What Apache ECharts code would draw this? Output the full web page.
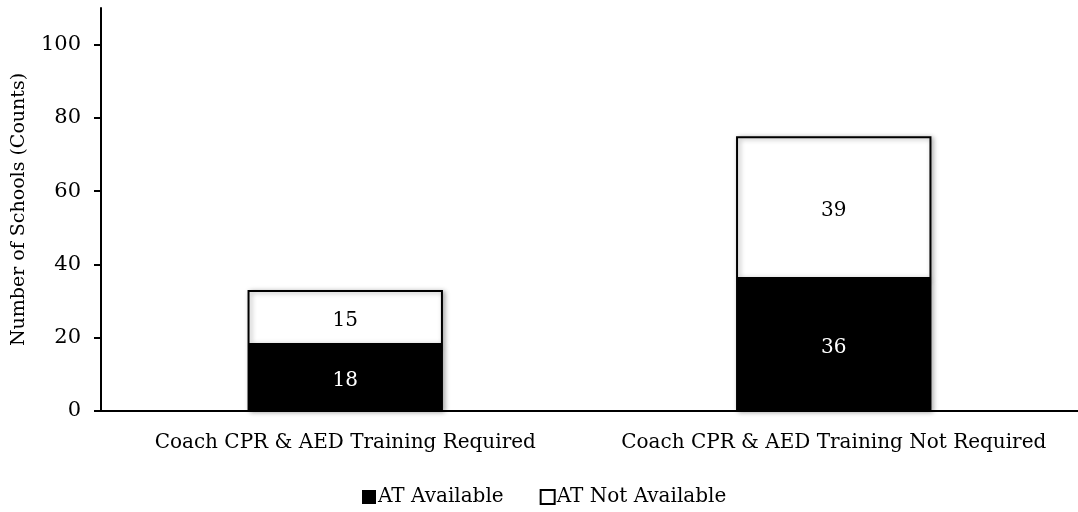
<!DOCTYPE html>
<html>
<head>
<meta charset="utf-8">
<script src="https://cdn.jsdelivr.net/npm/echarts@6/dist/echarts.min.js"></script>
<style>
  html, body { margin: 0; padding: 0; background: #fff; }
  #chart { width: 1078px; height: 512px; }
</style>
</head>
<body>
<div id="chart"></div>
<script>
// Schools by coach CPR/AED training requirement, split by athletic trainer availability
const categories = ['Coach CPR & AED Training Required', 'Coach CPR & AED Training Not Required'];
const atAvailable = [18, 36];
const atNotAvailable = [15, 39];
const seriesNames = ['AT Available', 'AT Not Available'];

const FONT = 'DejaVu Serif';

const chart = echarts.init(document.getElementById('chart'), null, { renderer: 'canvas' });

const barShadow = {
  shadowBlur: 5,
  shadowColor: 'rgba(0,0,0,0.35)',
  shadowOffsetX: 2,
  shadowOffsetY: 1
};

chart.setOption({
  animation: false,
  backgroundColor: '#ffffff',
  textStyle: { fontFamily: FONT, color: '#000' },
  grid: { left: 101, right: 0, top: 8, bottom: 101, containLabel: false, outerBoundsMode: 'none' },
  legend: {
    bottom: 0,
    left: 357,
    itemWidth: 14,
    itemHeight: 14,
    itemGap: 36,
    textStyle: { fontFamily: FONT, fontSize: 20, color: '#000', padding: [0, 0, 0, -3] },
    data: [
      { name: seriesNames[0], icon: 'rect', itemStyle: { color: '#000', borderColor: '#000', borderWidth: 0 } },
      { name: seriesNames[1], icon: 'rect', itemStyle: { color: '#fff', borderColor: '#000', borderWidth: 2 } }
    ]
  },
  xAxis: {
    type: 'category',
    data: categories,
    axisLine: { lineStyle: { color: '#000', width: 2 } },
    axisTick: { show: false },
    axisLabel: { fontFamily: FONT, fontSize: 20, color: '#000', margin: 22, interval: 0 },
    splitLine: { show: false }
  },
  yAxis: {
    type: 'value',
    min: 0,
    max: 110,
    interval: 20,
    name: 'Number of Schools (Counts)',
    nameLocation: 'middle',
    nameGap: 72,
    nameRotate: 90,
    nameTextStyle: { fontFamily: FONT, fontSize: 19, color: '#000' },
    axisLine: { show: true, lineStyle: { color: '#000', width: 2 } },
    axisTick: { show: true, length: 7, lineStyle: { color: '#000', width: 2 } },
    axisLabel: { fontFamily: FONT, fontSize: 21, color: '#000', margin: 20, showMaxLabel: false },
    splitLine: { show: false }
  },
  series: [
    {
      name: seriesNames[0],
      type: 'bar',
      stack: 'total',
      data: atAvailable,
      barWidth: '40%',
      itemStyle: Object.assign({ color: '#000', borderColor: '#000', borderWidth: 2 }, barShadow),
      label: { show: true, position: 'inside', offset: [0, 3], color: '#fff', fontFamily: FONT, fontSize: 20 }
    },
    {
      name: seriesNames[1],
      type: 'bar',
      stack: 'total',
      data: atNotAvailable,
      barWidth: '40%',
      itemStyle: Object.assign({ color: '#fff', borderColor: '#000', borderWidth: 2 }, barShadow),
      label: { show: true, position: 'inside', offset: [0, 3], color: '#000', fontFamily: FONT, fontSize: 20 }
    }
  ]
});
</script>
</body>
</html>
